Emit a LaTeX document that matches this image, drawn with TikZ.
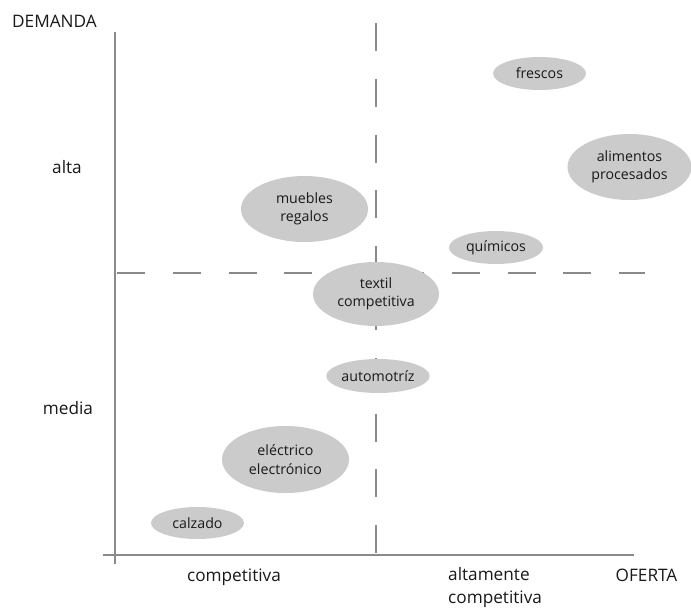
\documentclass[tikz,border=0pt]{standalone}
\usepackage{fontspec}
\setmainfont{Open Sans}
\usepackage{xcolor}
\usetikzlibrary{shapes.geometric}
\definecolor{ejegris}{RGB}{138,138,138}
\definecolor{manchagris}{RGB}{203,203,203}
\definecolor{tinta}{RGB}{25,25,25}
\tikzset{
eje/.style={draw=ejegris,line width=1.4pt},
corte/.style={draw=ejegris,line width=1.4pt,dash pattern=on 28pt off 27.8pt},
sector/.style={ellipse,fill=manchagris,inner sep=0pt,align=center,text=tinta,font=\fontsize{14.2}{18.5}\selectfont},
rotulo/.style={text=tinta,font=\fontsize{17.2}{23}\selectfont}
}

\begin{document}
\begin{tikzpicture}[x=1pt,y=-1pt]
\useasboundingbox[fill=white] (0,0) rectangle (691,611);

\coordinate (ytop) at (115,32);
\coordinate (ybot) at (115,564);
\coordinate (xizq) at (103,555);
\coordinate (xder) at (634,555);
\coordinate (vtop) at (376,23);
\coordinate (vbot) at (376,555);
\coordinate (hizq) at (117,273);
\coordinate (hder) at (645,273);

\draw[eje] (ytop)--(ybot);
\draw[eje] (xizq)--(xder);
\draw[corte] (vtop)--(vbot);
\draw[corte] (hizq)--(hder);

\foreach \x/\y/\w/\h/\n/\t in {
304.5/209/127/66/muebles/{muebles\\regalos},
376/294/126/64/textil/{textil\\competitiva},
539.5/73.5/93/33/frescos/{frescos},
629.5/167/124/66/alimentos/{alimentos\\procesados},
496/247.5/94/33/quimicos/{químicos},
378/376/100/34/automotriz/{automotríz},
285.5/459.5/127/67/electrico/{eléctrico\\electrónico},
197.5/523/93/32/calzado/{calzado}} {
\node[sector,minimum width=\w pt,minimum height=\h pt] (\n) at (\x,\y) {\t};
}

\node[rotulo,anchor=west,inner sep=0pt] (demanda) at (12,21) {DEMANDA};
\node[rotulo] (alta) at (67,167) {alta};
\node[rotulo] (media) at (68,408) {media};
\node[rotulo] (comp) at (234,577) {competitiva};
\node[rotulo,anchor=north west,align=left,inner sep=0pt] (altcomp) at (448,567) {altamente\\competitiva};
\node[rotulo] (oferta) at (646.5,575) {OFERTA};

\end{tikzpicture}
\end{document}
